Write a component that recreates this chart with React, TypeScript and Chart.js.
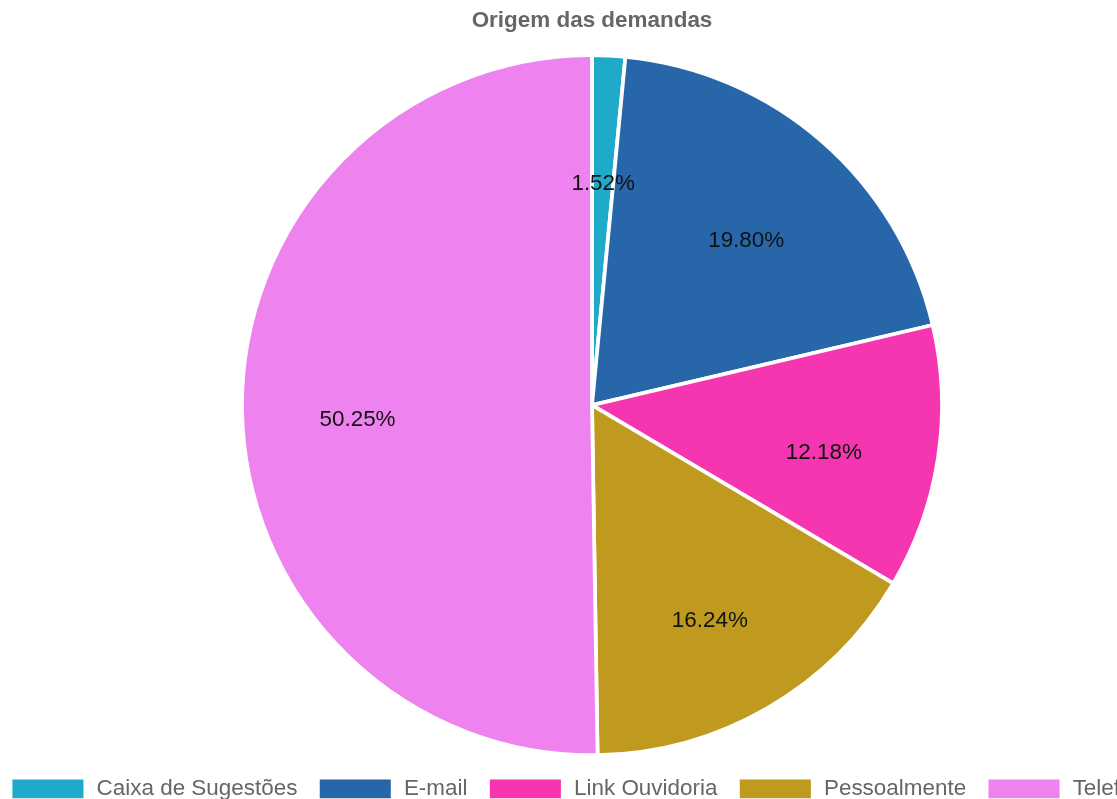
import React, { useEffect, useRef } from "react";
import { Chart, registerables } from "chart.js";

Chart.register(...registerables);

const labels = ["Caixa de Sugestões", "E-mail", "Link Ouvidoria", "Pessoalmente", "Telefone"];
const values = [3, 39, 24, 32, 99];
const colors = ["#20AAC9", "#2766A9", "#F636B1", "#BF9A1E", "#EE82EE"];
const chartTitle = "Origem das demandas";

const S = 1.87;
const FONT = "'Liberation Sans', Arial, Helvetica, sans-serif";

const percentLabels = {
  id: "percentLabels",
  afterDatasetsDraw(chart: any) {
    const ctx = chart.ctx;
    const meta = chart.getDatasetMeta(0);
    const data = chart.data.datasets[0].data as number[];
    const total = data.reduce((a, b) => a + b, 0);
    const size = 12 * S;
    ctx.save();
    ctx.font = `normal ${size}px ${FONT}`;
    ctx.fillStyle = "#111";
    ctx.textAlign = "center";
    ctx.textBaseline = "middle";
    meta.data.forEach((arc: any, i: number) => {
      const p = arc.getProps(["x", "y", "startAngle", "endAngle", "outerRadius"], true);
      const mid = (p.startAngle + p.endAngle) / 2;
      const r = p.outerRadius * 0.67;
      const txt = ((data[i] / total) * 100).toFixed(2) + "%";
      ctx.fillText(txt, p.x + Math.cos(mid) * r, p.y + Math.sin(mid) * r + size * 0.56);
    });
    ctx.restore();
  },
};

const legendShift = {
  id: "legendShift",
  afterLayout(chart: any) {
    const lg = chart.legend;
    if (lg) {
      lg.left -= 8;
      lg.right -= 8;
    }
  },
};

export default function App() {
  const ref = useRef<HTMLCanvasElement | null>(null);
  useEffect(() => {
    if (!ref.current) return;
    const chart = new Chart(ref.current, {
      type: "pie",
      data: {
        labels,
        datasets: [
          {
            data: values,
            backgroundColor: colors,
            borderColor: "#ffffff",
            borderWidth: 2 * S,
          },
        ],
      },
      options: {
        responsive: false,
        animation: false,
        devicePixelRatio: 1,
        plugins: {
          title: {
            display: true,
            text: chartTitle,
            color: "#666",
            font: { family: FONT, size: 12 * S, weight: "bold" },
            padding: 10 * S,
          },
          legend: {
            display: true,
            position: "bottom",
            labels: {
              color: "#666",
              font: { family: FONT, size: 12 * S },
              boxWidth: 40 * S,
              boxHeight: 12 * S,
              padding: 20.5,
            },
          },
          tooltip: { enabled: false },
        },
      },
      plugins: [percentLabels, legendShift],
    });
    return () => chart.destroy();
  }, []);
  return (
    <div
      style={{
        position: "fixed",
        left: 0,
        top: 0,
        width: 1117,
        height: 799,
        overflow: "hidden",
        background: "#fff",
      }}
    >
      <canvas
        ref={ref}
        width={1200}
        height={821}
        style={{ position: "absolute", left: -8, top: -11, display: "block" }}
      />
    </div>
  );
}
